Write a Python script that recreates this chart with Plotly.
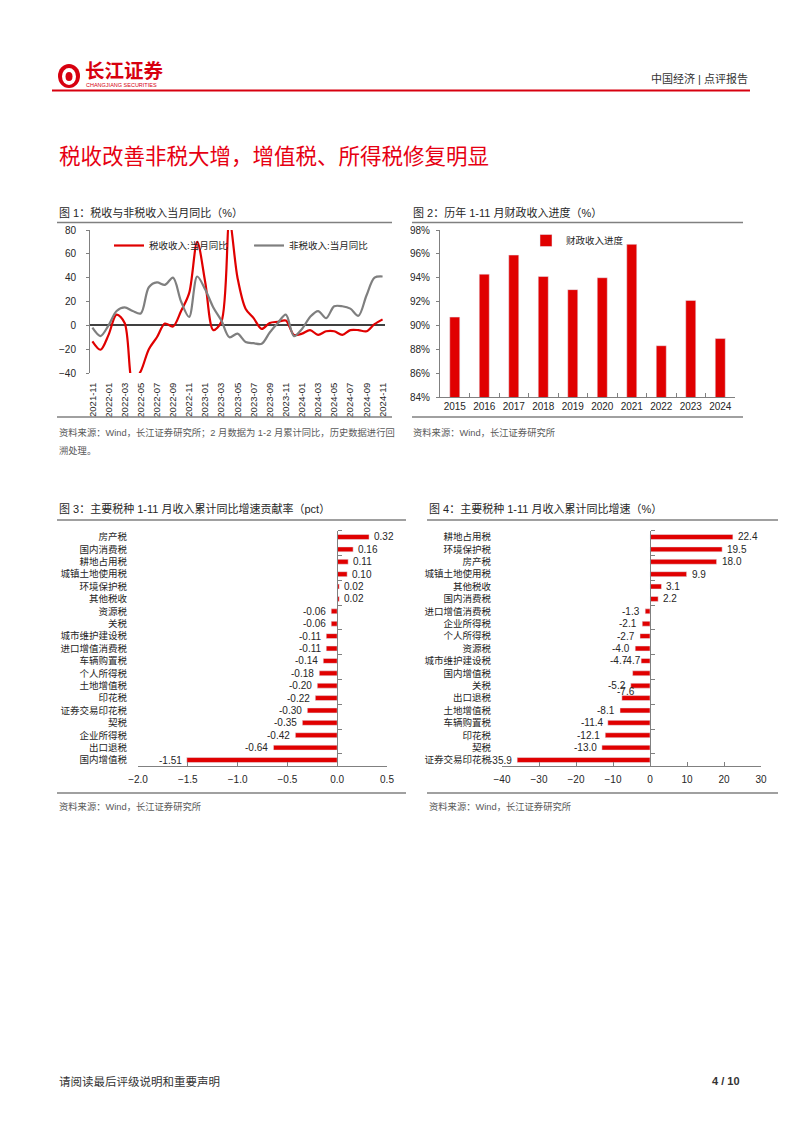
import plotly.graph_objects as go

# ---------------- data ----------------
months = ["2021-11", "2021-12", "2022-01", "2022-02", "2022-03", "2022-04", "2022-05", "2022-06",
          "2022-07", "2022-08", "2022-09", "2022-10", "2022-11", "2022-12", "2023-01", "2023-02",
          "2023-03", "2023-04", "2023-05", "2023-06", "2023-07", "2023-08", "2023-09", "2023-10",
          "2023-11", "2023-12", "2024-01", "2024-02", "2024-03", "2024-04", "2024-05", "2024-06",
          "2024-07", "2024-08", "2024-09", "2024-10", "2024-11"]
tax_yoy = [-13.5, -20.5, -8, 9, 2, -48, -38.5, -20, -10, 1.5, -1, 12, 27, 70, 36, -4,
           3, 88, 40, 14, 6, -3, 2, 3, 4, -8, -7, -4, -8, -5, -5, -8, -4, -4, -5, 1, 5]
nontax_yoy = [-2, -9, 0, 12, 15, 12, 10, 32, 36, 34, 40, 20, 7, 41, 30, 15,
              4, -10, -7, -14, -15, -15.5, -6, 2, 9, -9, -3, 7, 12, 6, 16, 16, 14, 8, 25, 40, 41]

years = ["2015", "2016", "2017", "2018", "2019", "2020", "2021", "2022", "2023", "2024"]
progress = [90.7, 94.3, 95.9, 94.1, 93.0, 94.0, 96.8, 88.3, 92.1, 88.9]

cats3 = ["房产税", "国内消费税", "耕地占用税", "城镇土地使用税", "环境保护税", "其他税收", "资源税", "关税",
         "城市维护建设税", "进口增值消费税", "车辆购置税", "个人所得税", "土地增值税", "印花税",
         "证券交易印花税", "契税", "企业所得税", "出口退税", "国内增值税"]
contrib = [0.32, 0.16, 0.11, 0.10, 0.02, 0.02, -0.06, -0.06, -0.11, -0.11, -0.14, -0.18, -0.20,
           -0.22, -0.30, -0.35, -0.42, -0.64, -1.51]

cats4 = ["耕地占用税", "环境保护税", "房产税", "城镇土地使用税", "其他税收", "国内消费税", "进口增值消费税",
         "企业所得税", "个人所得税", "资源税", "城市维护建设税", "国内增值税", "关税", "出口退税",
         "土地增值税", "车辆购置税", "印花税", "契税", "证券交易印花税"]
growth = [22.4, 19.5, 18.0, 9.9, 3.1, 2.2, -1.3, -2.1, -2.7, -4.0, -2.4, -4.7, -5.2, -7.6,
          -8.1, -11.4, -12.1, -13.0, -35.9]
growth_labels = ["22.4", "19.5", "18.0", "9.9", "3.1", "2.2", "-1.3", "-2.1", "-2.7", "-4.0", "-4.7",
                 "-4.7", "-5.2", "-7.6", "-8.1", "-11.4", "-12.1", "-13.0", "-35.9"]
# labels that the original chart displaced (row shifts in px)
label_shift4 = {11: (0, 12.4), 13: (18, 7), 10: (5, 0)}

# ---------------- helpers ----------------
W, H = 802, 1133
OX, OY = 8, 8   # the page body adds an 8px margin around the figure


def X(p):
    return (p - OX) / W


def Y(p):
    return 1 - (p - OY) / H


FONT = "Liberation Sans, Noto Sans CJK SC, sans-serif"
RED = "#E00000"
AX = "#808080"
TXT = "#262626"

fig = go.Figure()

# chart 1
fig.add_trace(go.Scatter(x=months, y=tax_yoy, name="税收收入:当月同比", mode="lines",
                         line=dict(color=RED, width=2.2, shape="spline", smoothing=0.9),
                         xaxis="x", yaxis="y", legend="legend"))
fig.add_trace(go.Scatter(x=months, y=nontax_yoy, name="非税收入:当月同比", mode="lines",
                         line=dict(color="#7F7F7F", width=2.2, shape="spline", smoothing=0.9),
                         xaxis="x", yaxis="y", legend="legend"))
# chart 2
fig.add_trace(go.Bar(x=years, y=progress, name="财政收入进度", marker_color=RED, width=0.34,
                     xaxis="x2", yaxis="y2", legend="legend2"))
# chart 3
fig.add_trace(go.Bar(x=contrib, y=cats3, orientation="h", marker_color=RED, width=0.4,
                     xaxis="x3", yaxis="y3", showlegend=False))
fig.add_trace(go.Scatter(x=[0] * len(cats3), y=cats3, mode="markers", marker=dict(opacity=0),
                         xaxis="x3", yaxis="y5", showlegend=False, hoverinfo="skip"))
# chart 4
fig.add_trace(go.Bar(x=growth, y=cats4, orientation="h", marker_color=RED, width=0.4,
                     xaxis="x4", yaxis="y4", showlegend=False))
fig.add_trace(go.Scatter(x=[0] * len(cats4), y=cats4, mode="markers", marker=dict(opacity=0),
                         xaxis="x4", yaxis="y6", showlegend=False, hoverinfo="skip"))

tf = dict(family=FONT, size=10, color=TXT)
cf = dict(family=FONT, size=9.5, color=TXT)

layout = dict(
    width=W, height=H, margin=dict(l=0, r=0, t=0, b=0, pad=0, autoexpand=False),
    paper_bgcolor="white", plot_bgcolor="white",
    font=dict(family=FONT, size=10, color=TXT),
    bargap=0.6,
    # chart 1
    xaxis=dict(domain=[X(90), X(385)], anchor="y", type="category", range=[-0.3, 36.3],
               tickvals=months[::2], tickangle=-90, tickfont=dict(family=FONT, size=9.5, color=TXT),
               showline=False, ticks="outside", ticklen=5, tickcolor="rgba(0,0,0,0)",
               showgrid=False, zeroline=False, automargin=False),
    yaxis=dict(domain=[Y(373), Y(230)], anchor="x", range=[-40, 80], dtick=20,
               showline=True, linecolor=AX, linewidth=1, ticks="outside", ticklen=3, tickcolor=AX,
               ticklabelstandoff=8, zeroline=True, zerolinecolor="#404040", zerolinewidth=1.5,
               showgrid=False, tickfont=tf, automargin=False),
    # chart 2
    xaxis2=dict(domain=[X(440), X(735)], anchor="y2", type="category", showline=True,
                linecolor=AX, ticks="inside", tickson="boundaries", ticklen=4, tickcolor=AX,
                tickangle=0, tickfont=tf, showgrid=False, automargin=False),
    yaxis2=dict(domain=[Y(397), Y(230)], anchor="x2", range=[84, 98], dtick=2, ticksuffix="%",
                showline=True, linecolor=AX, ticks="outside", ticklen=3, tickcolor=AX,
                ticklabelstandoff=4, showgrid=False, zeroline=False, tickfont=tf, automargin=False),
    # chart 3
    xaxis3=dict(domain=[X(138), X(387)], anchor="y3", range=[-2, 0.5], dtick=0.5, tickformat=".1f",
                showline=True, linecolor=AX, ticks="inside", ticklen=4, tickcolor=AX,
                showgrid=False, zeroline=False, tickfont=tf, ticklabelstandoff=4, automargin=False),
    yaxis3=dict(domain=[Y(766.2), Y(530.8)], anchor="x3", type="category", categoryarray=cats3,
                categoryorder="array", range=[18.5, -0.5], showline=False, ticks="",
                ticklabelstandoff=10, showgrid=False, tickfont=cf, automargin=False),
    yaxis5=dict(overlaying="y3", anchor="free", position=X(337.2), side="right", type="category",
                categoryarray=cats3, categoryorder="array", range=[18.5, -0.5], showline=True,
                linecolor=AX, ticks="outside", tickson="boundaries", ticklen=4, tickcolor=AX,
                showticklabels=False, showgrid=False, automargin=False),
    # chart 4
    xaxis4=dict(domain=[X(502), X(761)], anchor="y4", range=[-40, 30], dtick=10,
                showline=True, linecolor=AX, ticks="inside", ticklen=4, tickcolor=AX,
                showgrid=False, zeroline=False, tickfont=tf, ticklabelstandoff=4, automargin=False),
    yaxis4=dict(domain=[Y(766.2), Y(530.8)], anchor="x4", type="category", categoryarray=cats4,
                categoryorder="array", range=[18.5, -0.5], showline=False, ticks="",
                ticklabelstandoff=10, showgrid=False, tickfont=cf, automargin=False),
    yaxis6=dict(overlaying="y4", anchor="free", position=X(650), side="right", type="category",
                categoryarray=cats4, categoryorder="array", range=[18.5, -0.5], showline=True,
                linecolor=AX, ticks="outside", tickson="boundaries", ticklen=4, tickcolor=AX,
                showticklabels=False, showgrid=False, automargin=False),
    legend=dict(x=X(109), y=Y(231), xanchor="left", yanchor="top", orientation="h",
                bgcolor="rgba(0,0,0,0)", font=dict(family=FONT, size=9.5, color=TXT),
                entrywidth=95, entrywidthmode="pixels", itemwidth=30),
    legend2=dict(x=X(526), y=Y(226), xanchor="left", yanchor="top", orientation="h",
                 bgcolor="rgba(0,0,0,0)", font=dict(family=FONT, size=9.5, color=TXT),
                 itemwidth=30),
)
fig.update_layout(**layout)

ann = []
shapes = []


def ptext(x, y, text, size=10, color=TXT, xanchor="left", yanchor="middle", bold=False):
    t = f"<b>{text}</b>" if bold else text
    ann.append(dict(xref="paper", yref="paper", x=X(x), y=Y(y), text=t, showarrow=False,
                    xanchor=xanchor, yanchor=yanchor, font=dict(family=FONT, size=size, color=color)))


def pline(x0, x1, y, color=AX, width=1.5):
    shapes.append(dict(type="line", xref="paper", yref="paper", x0=X(x0), x1=X(x1), y0=Y(y), y1=Y(y),
                       line=dict(color=color, width=width)))


# header
shapes.append(dict(type="circle", xref="paper", yref="paper", x0=X(58), x1=X(80), y0=Y(88), y1=Y(64),
                   fillcolor="#D7000F", line=dict(width=0)))
shapes.append(dict(type="circle", xref="paper", yref="paper", x0=X(62), x1=X(76), y0=Y(85), y1=Y(68),
                   fillcolor="white", line=dict(width=0)))
shapes.append(dict(type="circle", xref="paper", yref="paper", x0=X(65.5), x1=X(72.5), y0=Y(81), y1=Y(72),
                   fillcolor="#D7000F", line=dict(width=0)))
ptext(83, 71, "长江证券", size=19.5, color="#D7000F", bold=True)
ptext(84, 85, "CHANGJIANG SECURITIES", size=5.5, color="#D7000F")
ptext(750, 78, "中国经济 | 点评报告", size=11, color="#333333", xanchor="right")
pline(52, 750, 90.5, color="#D7000F", width=2.2)

# main title
ptext(57, 157, "税收改善非税大增，增值税、所得税修复明显", size=21.5, color="#E60012")

# chart titles and rules
ptext(57, 213, "图 1：税收与非税收入当月同比（%）", size=11)
pline(57, 392, 222.5)
ptext(411, 213, "图 2：历年 1-11 月财政收入进度（%）", size=11)
pline(412, 743, 222.5)
pline(57, 392, 417)
pline(412, 743, 417)
ptext(57, 432, "资料来源：Wind，长江证券研究所；2 月数据为 1-2 月累计同比，历史数据进行回", size=9.3,
      color="#595959")
ptext(57, 450, "溯处理。", size=9.3, color="#595959")
ptext(411, 432, "资料来源：Wind，长江证券研究所", size=9.3, color="#595959")

ptext(57, 508, "图 3：主要税种 1-11 月收入累计同比增速贡献率（pct）", size=11)
pline(57, 406, 520)
ptext(427, 508, "图 4：主要税种 1-11 月收入累计同比增速（%）", size=11)
pline(427, 778, 520)
pline(57, 406, 793)
pline(427, 778, 793)
ptext(57, 806, "资料来源：Wind，长江证券研究所", size=9.3, color="#595959")
ptext(427, 806, "资料来源：Wind，长江证券研究所", size=9.3, color="#595959")

# footer
ptext(57, 1081, "请阅读最后评级说明和重要声明", size=11.5, color="#333333")
ptext(742, 1081, "4 / 10", size=11, color="#333333", xanchor="right", bold=True)

# value labels chart 3
for c, v in zip(cats3, contrib):
    ann.append(dict(xref="x3", yref="y3", x=v, y=c, text=f"{v:.2f}", showarrow=False,
                    xanchor="left" if v >= 0 else "right", xshift=3 if v >= 0 else -3,
                    font=dict(family=FONT, size=10, color=TXT)))
# value labels chart 4
for i, (c, v, lab) in enumerate(zip(cats4, growth, growth_labels)):
    dx, dy = label_shift4.get(i, (0, 0))
    ann.append(dict(xref="x4", yref="y4", x=v, y=c, text=lab, showarrow=False,
                    xanchor="left" if v >= 0 else "right", xshift=(3 if v >= 0 else -3) + dx,
                    yshift=dy, font=dict(family=FONT, size=10, color=TXT)))

fig.update_layout(annotations=ann, shapes=shapes)
fig.write_html("out.html")
